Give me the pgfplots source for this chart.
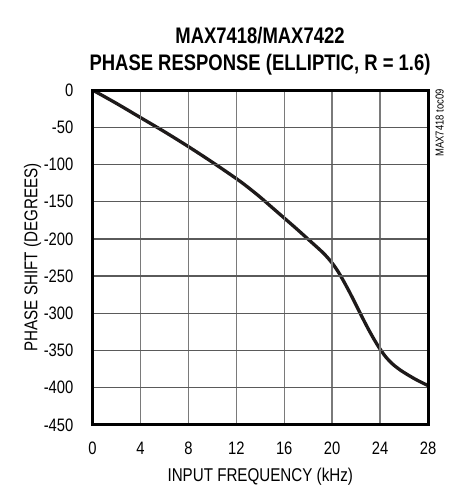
\documentclass[border=0pt]{standalone}
\usepackage{fontspec}
\setmainfont{Liberation Sans}[FakeStretch=0.82]
\usepackage{pgfplots}
\pgfplotsset{compat=1.18}
\definecolor{curve}{HTML}{1E1A1A}
\definecolor{gridh}{HTML}{5A5A5A}
\definecolor{gridv}{HTML}{7A7A7A}
\begin{document}
\begin{tikzpicture}
\path[use as bounding box] (0pt,0pt) rectangle (453pt,487pt);
\begin{axis}[
  at={(92.5pt,62pt)}, anchor=south west,
  scale only axis, width=335.5pt, height=335pt,
  xmin=0, xmax=28, ymin=-450, ymax=0,
  xtick={0,4,...,28},
  ytick={-450,-400,-350,-300,-250,-200,-150,-100,-50,0},
  yticklabels={-450,-400,-350,-300,-250,-200,-150,-100,-50,0},
  /pgf/number format/assume math mode=true,
  major tick length=0pt,
  grid=major,
  x grid style={gridv, line width=1.3pt},
  y grid style={gridh, line width=1.3pt},
  axis line style={black, line width=3pt},
  axis on top,
  tick label style={font=\fontsize{18}{20}\selectfont, inner sep=0pt},
  yticklabel style={anchor=east, xshift=-19pt},
  xticklabel style={anchor=north, yshift=-16.5pt},
  xlabel={INPUT FREQUENCY (kHz)},
  ylabel={PHASE SHIFT (DEGREES)},
  label style={font=\fontsize{18.5}{20}\selectfont, inner sep=0pt},
  xlabel style={at={(axis description cs:0.5,-0.1687)}, anchor=base},
  ylabel style={at={(axis description cs:-0.1645,0.5)}, anchor=base},
]
\addplot[curve, line width=3.3pt, smooth, tension=0.55] coordinates {
(0,0) (2,-18) (4,-37) (6,-56) (8,-76) (10,-97) (12,-119) (13,-131)
(14,-144) (15,-158) (16,-172) (17,-186) (18,-200.5) (19,-215) (19.5,-223) (20,-232.5)
(20.5,-244) (21,-258) (21.5,-273) (22,-289) (22.5,-305) (23,-320.5)
(23.5,-335) (24,-348) (24.5,-359) (25,-367.5) (25.5,-374) (26,-379.5) (27,-389) (28,-397)
};
\end{axis}
\node[anchor=base, font=\fontsize{22.5}{24}\selectfont\bfseries] at (260pt,443.7pt) {MAX7418/MAX7422};
\node[anchor=base, font=\fontsize{22.5}{24}\selectfont\bfseries] at (260pt,416pt) {PHASE RESPONSE (ELLIPTIC, R = 1.6)};
\node[anchor=base, rotate=90, inner sep=0pt, font=\fontsize{11.5}{12}\selectfont] at (443.5pt,364pt) {MAX7418 toc09};
\end{tikzpicture}
\end{document}
